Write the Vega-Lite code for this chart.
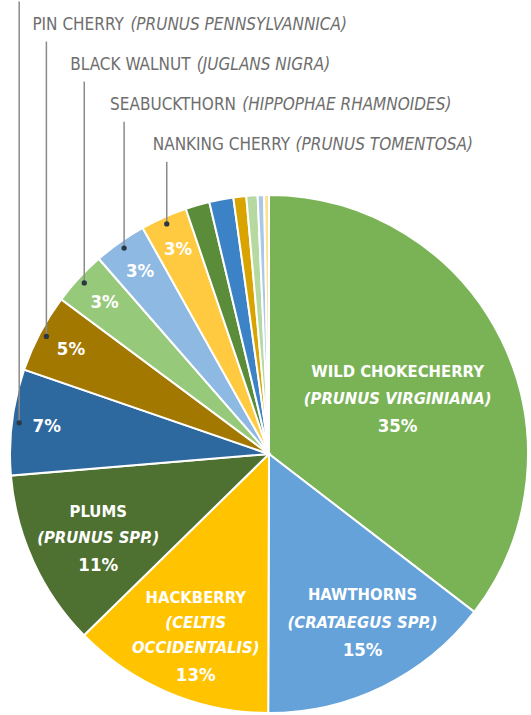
{
  "$schema": "https://vega.github.io/schema/vega-lite/v6.json",
  "width": 518,
  "height": 518,
  "autosize": {"type": "none"},
  "padding": {"left": 10, "top": 195, "right": 3, "bottom": 2},
  "background": "#ffffff",
  "config": {
    "view": {"stroke": null},
    "text": {"font": "DejaVu Sans Condensed, DejaVu Sans, sans-serif"}
  },
  "data": {
    "values": [
      {"order": 1, "name": "Wild chokecherry", "common": "WILD CHOKECHERRY", "sci": "(PRUNUS VIRGINIANA)", "share": 0.354},
      {"order": 2, "name": "Hawthorns", "common": "HAWTHORNS", "sci": "(CRATAEGUS SPP.)", "share": 0.146},
      {"order": 3, "name": "Hackberry", "common": "HACKBERRY", "sci": "(CELTIS OCCIDENTALIS)", "share": 0.126},
      {"order": 4, "name": "Plums", "common": "PLUMS", "sci": "(PRUNUS SPP.)", "share": 0.110},
      {"order": 5, "name": "Species with cropped label", "common": "", "sci": "", "share": 0.066},
      {"order": 6, "name": "Pin cherry", "common": "PIN CHERRY", "sci": "(PRUNUS PENNSYLVANNICA)", "share": 0.049},
      {"order": 7, "name": "Black walnut", "common": "BLACK WALNUT", "sci": "(JUGLANS NIGRA)", "share": 0.034},
      {"order": 8, "name": "Seabuckthorn", "common": "SEABUCKTHORN", "sci": "(HIPPOPHAE RHAMNOIDES)", "share": 0.033},
      {"order": 9, "name": "Nanking cherry", "common": "NANKING CHERRY", "sci": "(PRUNUS TOMENTOSA)", "share": 0.029},
      {"order": 10, "name": "Other species 1", "common": "", "sci": "", "share": 0.015},
      {"order": 11, "name": "Other species 2", "common": "", "sci": "", "share": 0.015},
      {"order": 12, "name": "Other species 3", "common": "", "sci": "", "share": 0.008},
      {"order": 13, "name": "Other species 4", "common": "", "sci": "", "share": 0.007},
      {"order": 14, "name": "Other species 5", "common": "", "sci": "", "share": 0.004},
      {"order": 15, "name": "Other species 6", "common": "", "sci": "", "share": 0.003}
    ]
  },
  "layer": [
    {
      "encoding": {
        "theta": {"field": "share", "type": "quantitative", "stack": true},
        "order": {"field": "order", "type": "quantitative"}
      },
      "layer": [
        {
          "mark": {"type": "arc", "stroke": "#ffffff", "strokeWidth": 2},
          "encoding": {
            "color": {
              "field": "name",
              "type": "nominal",
              "legend": null,
              "scale": {
                "domain": ["Wild chokecherry", "Hawthorns", "Hackberry", "Plums", "Species with cropped label", "Pin cherry", "Black walnut", "Seabuckthorn", "Nanking cherry", "Other species 1", "Other species 2", "Other species 3", "Other species 4", "Other species 5", "Other species 6"],
                "range": ["#7AB356", "#65A2DA", "#FFC300", "#4E7031", "#2D689E", "#A27800", "#97C97A", "#8DB9E3", "#FFCA3F", "#5B8C3A", "#3B82C6", "#D9A300", "#B6D9A2", "#A8C8EA", "#FFE08C"]
              }
            }
          }
        },
        {
          "mark": {"type": "text", "radius": 224, "fontSize": 18.5, "fontWeight": "bold", "color": "#ffffff"},
          "encoding": {"text": {"condition": {"test": "datum.share > 0.025 && datum.share < 0.08", "field": "share", "type": "quantitative", "format": ".0%"}, "value": ""}}
        },
        {
          "mark": {"type": "text", "radius": 140, "dx": 3, "dy": -20, "fontSize": 16.5, "fontWeight": "bold", "color": "#ffffff"},
          "encoding": {"text": {"condition": {"test": "datum.order === 1", "field": "common", "type": "nominal"}, "value": ""}}
        },
        {
          "mark": {"type": "text", "radius": 140, "dx": 3, "dy": 7, "fontSize": 16.5, "fontWeight": "bold", "fontStyle": "italic", "color": "#ffffff"},
          "encoding": {"text": {"condition": {"test": "datum.order === 1", "field": "sci", "type": "nominal"}, "value": ""}}
        },
        {
          "mark": {"type": "text", "radius": 140, "dx": 3, "dy": 34, "fontSize": 18.5, "fontWeight": "bold", "color": "#ffffff"},
          "encoding": {"text": {"condition": {"test": "datum.order === 1", "field": "share", "type": "quantitative", "format": ".0%"}, "value": ""}}
        },
        {
          "mark": {"type": "text", "radius": 192, "dx": 9, "dy": -31, "fontSize": 16.5, "fontWeight": "bold", "color": "#ffffff"},
          "encoding": {"text": {"condition": {"test": "datum.order === 2", "field": "common", "type": "nominal"}, "value": ""}}
        },
        {
          "mark": {"type": "text", "radius": 192, "dx": 9, "dy": -3, "fontSize": 16.5, "fontWeight": "bold", "fontStyle": "italic", "color": "#ffffff"},
          "encoding": {"text": {"condition": {"test": "datum.order === 2", "field": "sci", "type": "nominal"}, "value": ""}}
        },
        {
          "mark": {"type": "text", "radius": 192, "dx": 9, "dy": 24, "fontSize": 18.5, "fontWeight": "bold", "color": "#ffffff"},
          "encoding": {"text": {"condition": {"test": "datum.order === 2", "field": "share", "type": "quantitative", "format": ".0%"}, "value": ""}}
        },
        {
          "mark": {"type": "text", "radius": 196, "dx": 3, "dy": -37, "fontSize": 16.5, "fontWeight": "bold", "color": "#ffffff"},
          "encoding": {"text": {"condition": {"test": "datum.order === 3", "field": "common", "type": "nominal"}, "value": ""}}
        },
        {
          "mark": {"type": "text", "radius": 196, "dx": 3, "dy": -12, "fontSize": 16.5, "fontWeight": "bold", "fontStyle": "italic", "color": "#ffffff", "lineBreak": " ", "lineHeight": 25.5},
          "encoding": {"text": {"condition": {"test": "datum.order === 3", "field": "sci", "type": "nominal"}, "value": ""}}
        },
        {
          "mark": {"type": "text", "radius": 196, "dx": 3, "dy": 40, "fontSize": 18.5, "fontWeight": "bold", "color": "#ffffff"},
          "encoding": {"text": {"condition": {"test": "datum.order === 3", "field": "share", "type": "quantitative", "format": ".0%"}, "value": ""}}
        },
        {
          "mark": {"type": "text", "radius": 190, "dx": 2, "dy": -21, "fontSize": 16.5, "fontWeight": "bold", "color": "#ffffff"},
          "encoding": {"text": {"condition": {"test": "datum.order === 4", "field": "common", "type": "nominal"}, "value": ""}}
        },
        {
          "mark": {"type": "text", "radius": 190, "dx": 2, "dy": 5, "fontSize": 16.5, "fontWeight": "bold", "fontStyle": "italic", "color": "#ffffff"},
          "encoding": {"text": {"condition": {"test": "datum.order === 4", "field": "sci", "type": "nominal"}, "value": ""}}
        },
        {
          "mark": {"type": "text", "radius": 190, "dx": 2, "dy": 32, "fontSize": 18.5, "fontWeight": "bold", "color": "#ffffff"},
          "encoding": {"text": {"condition": {"test": "datum.order === 4", "field": "share", "type": "quantitative", "format": ".0%"}, "value": ""}}
        }
      ]
    },
    {
      "transform": [
        {"stack": "share", "groupby": [], "sort": [{"field": "order", "order": "ascending"}], "as": ["s0", "s1"]},
        {"joinaggregate": [{"op": "sum", "field": "share", "as": "total"}]},
        {"filter": "datum.share > 0.025 && datum.share < 0.08"},
        {"window": [{"op": "row_number", "as": "slot"}], "sort": [{"field": "order", "order": "ascending"}]},
        {"calculate": "PI * (datum.s0 + datum.s1) / datum.total", "as": "mid"},
        {"calculate": "0.972 * sin(datum.mid)", "as": "px"},
        {"calculate": "0.972 * cos(datum.mid)", "as": "py"},
        {"calculate": "1.747 - 0.1547 * (datum.slot - 1)", "as": "top"},
        {"calculate": "datum.px + (1.01*(10.3*length(datum.common) - 5.7*(length(datum.common)-length(replace(datum.common, regexp('[IJ ]','g'), ''))) - 1.9*(length(datum.common)-length(replace(datum.common, regexp('L','g'), ''))) - 1.3*(length(datum.common)-length(replace(datum.common, regexp('[FPTY]','g'), ''))) - 0.7*(length(datum.common)-length(replace(datum.common, regexp('[ESK]','g'), ''))) + 0.6*(length(datum.common)-length(replace(datum.common, regexp('[CHNUX]','g'), ''))) + 1.4*(length(datum.common)-length(replace(datum.common, regexp('[DGO]','g'), ''))) + 2.6*(length(datum.common)-length(replace(datum.common, regexp('M','g'), ''))) + 4.5*(length(datum.common)-length(replace(datum.common, regexp('W','g'), '')))) - 7) / 259", "as": "ix"}
      ],
      "layer": [
        {
          "mark": {"type": "rule", "color": "#8a8a8a", "strokeWidth": 1.5},
          "encoding": {
            "x": {"field": "px", "type": "quantitative", "scale": {"domain": [-1, 1], "nice": false, "zero": false}, "axis": null},
            "y": {"field": "py", "type": "quantitative", "scale": {"domain": [-1, 1], "nice": false, "zero": false}, "axis": null},
            "y2": {"field": "top"}
          }
        },
        {
          "mark": {"type": "circle", "color": "#2b3742", "size": 28, "opacity": 1},
          "encoding": {
            "x": {"field": "px", "type": "quantitative"},
            "y": {"field": "py", "type": "quantitative"}
          }
        },
        {
          "mark": {"type": "text", "align": "left", "baseline": "middle", "dx": -14, "dy": -17, "fontSize": 17, "color": "#6e6e6e"},
          "encoding": {
            "x": {"field": "px", "type": "quantitative"},
            "y": {"field": "top", "type": "quantitative"},
            "text": {"field": "common", "type": "nominal"}
          }
        },
        {
          "mark": {"type": "text", "align": "left", "baseline": "middle", "dy": -17, "fontSize": 17, "fontStyle": "italic", "color": "#6e6e6e"},
          "encoding": {
            "x": {"field": "ix", "type": "quantitative"},
            "y": {"field": "top", "type": "quantitative"},
            "text": {"field": "sci", "type": "nominal"}
          }
        }
      ]
    }
  ]
}
